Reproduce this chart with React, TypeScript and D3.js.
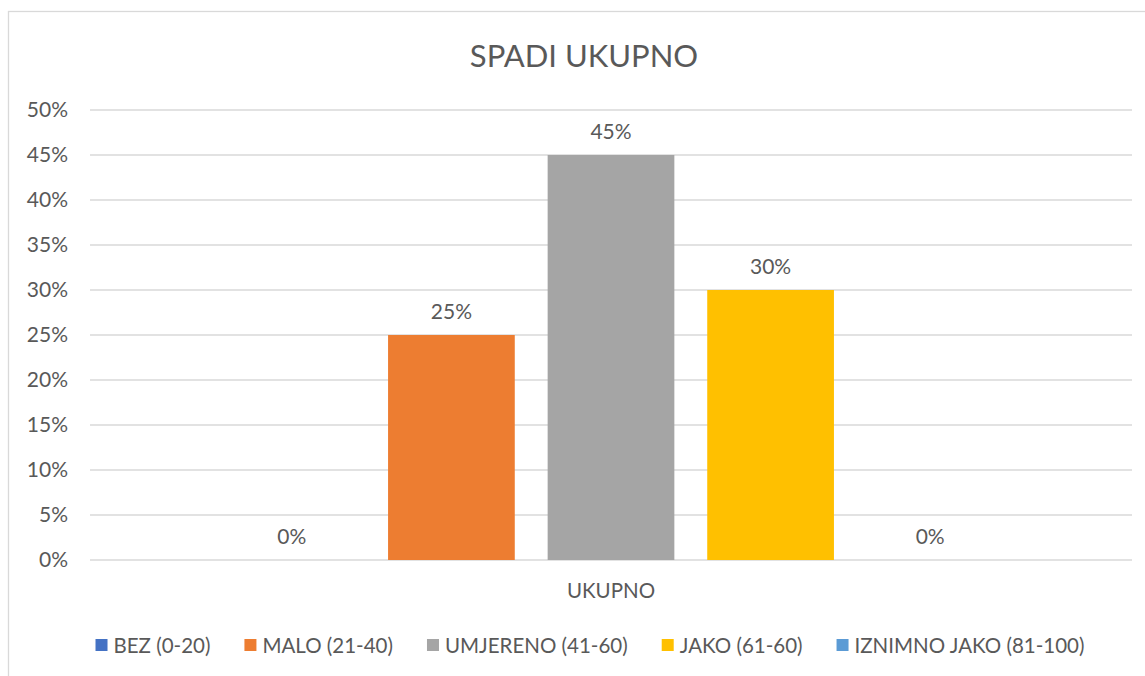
import * as React from 'react'
import { useEffect, useRef, FunctionComponent } from 'react'
import * as d3 from 'd3'

const title = 'SPADI UKUPNO'
const categories = ['UKUPNO']
const seriesNames = ['BEZ (0-20)', 'MALO (21-40)', 'UMJERENO (41-60)', 'JAKO (61-60)', 'IZNIMNO JAKO (81-100)']
const seriesValues = [0, 25, 45, 30, 0]
const colors = ['#4472c4', '#ed7d31', '#a5a5a5', '#ffc000', '#5b9bd5']
const yTicks = [0, 5, 10, 15, 20, 25, 30, 35, 40, 45, 50]

const font = 'Lato, "Open Sans", sans-serif'
const textColor = '#595959'

const App: FunctionComponent = () => {
  const svgRef = useRef<SVGSVGElement | null>(null)
  const width = 1145
  const height = 676

  useEffect(() => {
    const svg = d3.select(svgRef.current)
    svg.selectAll('*').remove()

    // Settings
    const left = 90
    const right = 1132
    const top = 110
    const bottom = 560

    svg.append('rect')
      .attr('x', 8.5).attr('y', 11.5)
      .attr('width', 1160).attr('height', 700)
      .attr('fill', '#fff').attr('stroke', '#d9d9d9').attr('stroke-width', 1.3)

    const y = d3.scaleLinear().domain([0, 50]).range([bottom, top])
    const x0 = d3.scaleBand().domain(categories).range([left, right]).paddingInner(0).paddingOuter(0.181)
    const x1 = d3.scaleBand().domain(seriesNames).range([0, x0.bandwidth()]).paddingInner(0.206)

    svg.append('text')
      .attr('x', 584).attr('y', 55)
      .attr('text-anchor', 'middle').attr('dominant-baseline', 'central')
      .attr('font-family', font).attr('font-size', 31).attr('fill', textColor)
      .text(title)

    const grid = svg.append('g')
    grid.selectAll('line')
      .data(yTicks)
      .enter()
      .append('line')
      .attr('x1', left).attr('x2', right)
      .attr('y1', d => y(d)).attr('y2', d => y(d))
      .attr('stroke', '#d9d9d9').attr('stroke-width', 1.3)

    const yAxis = d3.axisLeft(y).tickValues(yTicks).tickFormat(d => `${d}%`).tickSize(0).tickPadding(0)
    const ax = svg.append('g').attr('transform', `translate(68,0)`).call(yAxis)
    ax.select('.domain').remove()
    ax.selectAll('text')
      .attr('font-family', font).attr('font-size', 21).attr('fill', textColor)

    const groups = svg.selectAll('g.cat')
      .data(categories)
      .enter()
      .append('g')
      .attr('class', 'cat')
      .attr('transform', d => `translate(${x0(d)},0)`)

    groups.selectAll('rect')
      .data(seriesNames.map((s, i) => ({ s, v: seriesValues[i], c: colors[i] })))
      .enter()
      .append('rect')
      .attr('x', d => x1(d.s) as number)
      .attr('width', x1.bandwidth())
      .attr('y', d => y(d.v))
      .attr('height', d => y(0) - y(d.v))
      .attr('fill', d => d.c)

    groups.selectAll('text.lbl')
      .data(seriesNames.map((s, i) => ({ s, v: seriesValues[i] })))
      .enter()
      .append('text')
      .attr('class', 'lbl')
      .attr('x', d => (x1(d.s) as number) + x1.bandwidth() / 2)
      .attr('y', d => y(d.v) - 25)
      .attr('text-anchor', 'middle').attr('dominant-baseline', 'central')
      .attr('font-family', font).attr('font-size', 21).attr('fill', textColor)
      .text(d => `${d.v}%`)

    svg.selectAll('text.cat')
      .data(categories)
      .enter()
      .append('text')
      .attr('class', 'cat')
      .attr('x', d => (x0(d) as number) + x0.bandwidth() / 2)
      .attr('y', 590)
      .attr('text-anchor', 'middle').attr('dominant-baseline', 'central')
      .attr('font-family', font).attr('font-size', 20.5).attr('fill', textColor)
      .text(d => d)

    // legend, measured then centered
    const legend = svg.append('g')
    const items = legend.selectAll('g')
      .data(seriesNames)
      .enter()
      .append('g')
    items.append('rect')
      .attr('width', 12).attr('height', 12).attr('y', -6)
      .attr('fill', (d, i) => colors[i])
    items.append('text')
      .attr('x', 18)
      .attr('dominant-baseline', 'central')
      .attr('font-family', font).attr('font-size', 20.5).attr('fill', textColor)
      .text(d => d)
    let cx = 0
    const pos: number[] = []
    items.each(function () {
      pos.push(cx)
      const t = (this as SVGGElement).querySelector('text') as SVGTextElement
      cx += 18 + t.getComputedTextLength() + 34
    })
    const total = cx - 34
    items.attr('transform', (d, i) => `translate(${pos[i]},0)`)
    legend.attr('transform', `translate(${590 - total / 2},645)`)
  }, [])

  return (
    <div style={{ position: 'absolute', left: 0, top: 0, width, height, overflow: 'hidden' }}>
      <svg ref={svgRef} width={width} height={height} />
    </div>
  )
}

export default App
